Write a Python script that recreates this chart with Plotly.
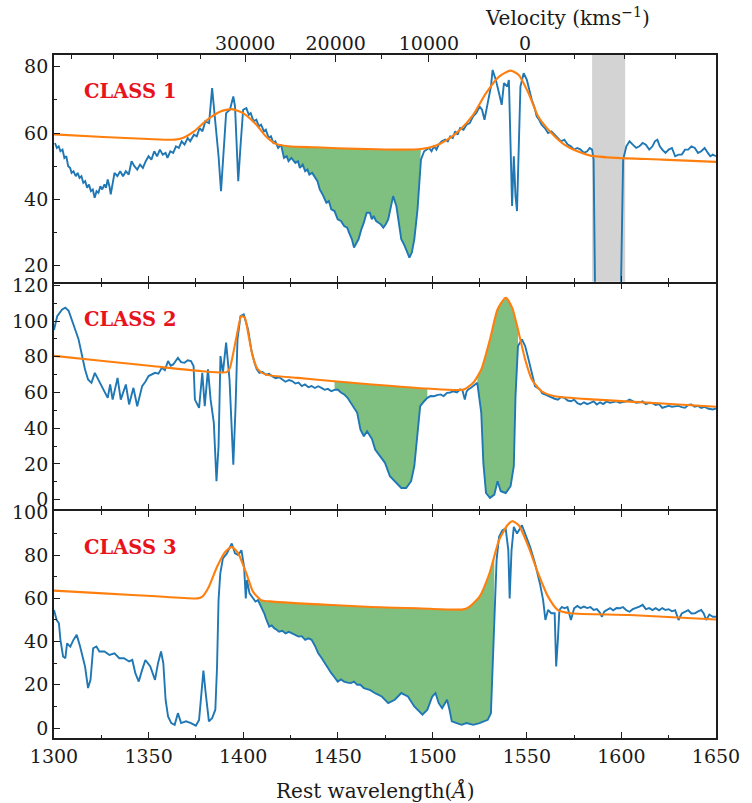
import numpy as np
import plotly.graph_objects as go

# ---------------- data ----------------
p1_wave = [1300.5,1301.5,1302.5,1303.4,1304.5,1305.5,1306.5,1307.5,1308.5,1309.3,1310.3,1311.5,1312.5,1313.5,1314.5,1315.5,1316.5,1317.5,1318.5,1319.5,
           1320.5,1321.5,1322.5,1323.5,1324.5,1325.5,1326.7,1327.5,1328.4,1329.3,1330.0,1331.0,1332.0,1333.5,1335.0,1336.5,1338.0,1339.5,1341.0,1342.5,
           1344.0,1345.5,1347.0,1348.5,1350.0,1351.5,1353.0,1354.5,1356.0,1357.5,1359.0,1360.0,1361.5,1363.0,1364.5,1366.0,1367.5,1369.0,1370.7,1372.0,
           1374.0,1375.5,1377.0,1378.5,1380.0,1382.0,1383.6,1385.0,1387.0,1388.3,1389.7,1391.0,1393.0,1394.8,1395.7,1396.6,1397.4,1398.6,1400.0,1401.7,
           1403.0,1404.0,1405.5,1407.0,1408.3,1409.5,1411.0,1412.0,1413.5,1414.7,1416.0,1417.0,1418.5,1420.0,1421.6,1423.0,1424.0,1425.5,1427.6,1429.0,
           1430.0,1431.5,1432.8,1434.0,1435.0,1436.5,1438.0,1439.3,1440.5,1442.0,1444.0,1445.3,1446.6,1448.3,1450.0,1451.7,1453.4,1455.0,1456.0,1457.5,
           1458.6,1460.0,1461.0,1462.5,1463.8,1465.3,1467.0,1468.0,1469.0,1470.3,1471.6,1472.8,1474.1,1475.4,1476.7,1478.0,1479.3,1481.0,1482.3,1483.6,
           1485.0,1486.2,1487.9,1489.2,1490.5,1492.2,1494.0,1495.7,1497.0,1498.3,1499.6,1500.9,1502.2,1503.4,1505.0,1506.9,1508.2,1509.5,1510.8,1512.1,
           1513.4,1514.7,1516.5,1518.1,1519.8,1521.6,1523.2,1525.0,1526.3,1527.6,1529.3,1531.0,1531.9,1533.6,1535.3,1536.7,1537.9,1539.7,1540.5,1541.4,
           1542.2,1543.1,1544.0,1544.8,1545.7,1546.6,1548.3,1550.0,1551.3,1552.6,1553.9,1555.2,1556.5,1557.8,1559.5,1561.2,1563.0,1564.7,1566.4,1568.1,
           1569.8,1571.6,1573.3,1575.0,1576.7,1578.4,1580.2,1581.9,1583.2,1584.5,1585.3,1586.2,1599.5,1600.9,1602.6,1604.3,1606.0,1607.8,1609.5,1611.2,
           1612.9,1614.7,1616.4,1617.7,1619.0,1620.3,1621.6,1623.3,1625.0,1626.7,1628.4,1630.2,1631.9,1633.6,1635.3,1637.0,1638.8,1640.5,1642.2,1644.0,
           1645.7,1647.0,1648.3,1650.0]
p1_flux = [57.0,55.5,56.0,54.5,55.0,52.5,53.0,50.0,49.5,48.0,48.5,47.0,48.0,46.5,47.0,45.0,45.5,43.5,44.5,42.5,
           43.0,40.5,42.5,42.0,44.0,43.0,44.5,43.5,46.0,44.0,41.5,45.0,48.0,47.0,48.5,47.0,48.5,47.5,51.5,50.0,
           49.0,50.5,49.5,51.5,53.0,52.0,54.5,53.0,55.0,53.5,54.0,52.5,54.5,54.0,56.0,55.5,57.5,56.5,58.5,57.5,
           59.5,59.0,61.5,60.5,63.5,63.0,73.5,65.0,53.0,42.5,55.0,66.0,67.0,71.0,68.0,55.0,45.5,56.0,67.0,67.5,
           65.5,66.0,63.5,64.0,62.0,62.5,60.5,61.0,58.5,59.0,57.0,57.5,55.5,56.5,52.5,53.0,51.5,52.5,51.0,51.5,
           49.5,50.5,48.5,49.0,47.5,48.0,46.5,45.5,43.0,41.5,39.0,39.5,37.0,36.5,34.0,33.5,32.0,31.5,30.0,28.0,
           25.5,27.0,28.0,31.0,33.0,36.0,36.0,34.0,35.0,33.5,33.0,32.5,31.5,32.5,34.0,38.0,41.0,38.0,33.0,28.0,
           26.5,25.0,22.5,24.0,28.0,37.0,52.0,54.5,55.0,55.5,54.5,56.0,55.0,56.5,57.5,58.0,57.5,59.0,58.5,60.5,
           59.5,61.5,61.0,62.5,63.0,65.0,66.0,68.0,67.0,64.0,69.0,74.0,79.0,76.0,72.0,68.5,75.0,74.0,76.0,55.0,
           38.0,53.0,41.0,36.5,55.0,74.0,78.0,76.0,73.0,70.0,68.0,65.0,64.0,62.5,61.5,60.0,60.5,59.5,58.5,57.5,
           58.0,56.5,56.0,55.0,55.5,55.0,54.0,54.5,55.5,55.0,52.0,5.0,5.0,52.0,56.0,57.5,56.5,55.5,56.0,57.0,
           56.5,55.0,56.0,57.5,58.0,56.0,55.0,54.0,55.0,55.5,53.0,53.5,53.5,55.0,55.0,56.0,55.5,54.0,54.5,55.5,
           54.0,53.0,53.5,53.0]
p1_cont_wave = [1300,1326,1350,1364,1368,1374,1381,1388,1394,1400,1407,1412,1417,1424,1438,1450,1470.7,1483.6,1494,1501,
                1508,1514.7,1521.6,1528.4,1535.3,1541.4,1545.7,1550.9,1556,1563,1569.8,1576.7,1583.6,1597.4,1621.6,1650]
p1_cont_flux = [59.6,58.8,58.2,58.0,58.5,60.5,64.0,66.5,67.2,66.0,62.5,59.0,56.8,56.0,55.7,55.4,55.1,55.0,55.2,56.0,
                58.0,61.0,65.5,72.0,77.0,78.8,77.5,72.0,65.0,60.0,56.5,54.5,53.2,52.5,52.0,51.3]

p2_wave = [1300.0,1301.7,1304.3,1306.0,1307.8,1309.5,1311.2,1313.0,1314.7,1316.4,1318.0,1319.8,1321.6,1323.3,1325.9,1328.4,1329.7,1331.0,1333.6,1335.3,
           1338.0,1339.7,1342.0,1344.0,1346.6,1348.3,1350.0,1351.7,1353.4,1355.2,1357.0,1358.6,1360.3,1361.7,1363.0,1365.5,1367.2,1369.0,1370.7,1372.4,
           1373.8,1374.5,1376.7,1378.4,1379.7,1381.4,1382.8,1384.5,1385.9,1387.0,1388.0,1389.3,1391.0,1392.8,1394.0,1394.8,1396.0,1397.0,1398.6,1400.3,
           1402.6,1404.3,1406.0,1407.2,1408.6,1410.3,1412.0,1413.7,1415.5,1417.2,1419.0,1420.7,1422.4,1424.2,1425.9,1427.6,1429.3,1431.0,1432.7,1434.5,
           1436.2,1437.9,1439.7,1441.4,1443.1,1444.8,1446.6,1448.3,1450.0,1451.7,1453.4,1455.2,1457.0,1460.3,1462.0,1463.8,1465.5,1468.1,1469.8,1472.4,
           1475.0,1477.6,1480.2,1483.6,1486.2,1488.8,1490.5,1492.2,1493.6,1495.7,1497.4,1499.1,1500.9,1502.6,1504.3,1506.0,1507.8,1509.5,1511.2,1513.0,
           1514.7,1516.0,1517.2,1518.1,1519.0,1520.3,1521.6,1523.8,1525.9,1527.0,1528.4,1530.5,1532.8,1534.5,1536.2,1538.8,1541.4,1543.1,1544.0,1545.3,
           1547.4,1549.1,1550.9,1552.6,1554.3,1556.9,1558.2,1559.5,1561.2,1563.0,1564.7,1566.4,1568.1,1569.8,1571.6,1573.3,1575.0,1576.7,1578.4,1580.2,
           1581.9,1583.6,1585.3,1587.0,1588.7,1590.4,1592.2,1593.9,1595.6,1597.4,1599.1,1600.8,1602.6,1604.3,1606.0,1607.8,1609.5,1611.2,1612.9,1614.7,
           1616.4,1618.1,1619.9,1621.6,1623.3,1625.0,1626.7,1628.4,1630.2,1631.9,1633.6,1635.3,1637.0,1638.7,1640.5,1642.2,1643.9,1645.7,1648.3,1650.0]
p2_flux = [95.0,102.8,106.5,107.5,105.6,101.0,95.3,89.7,81.3,72.9,67.3,65.4,71.0,67.3,61.7,57.0,64.5,56.0,68.2,56.0,
           64.5,53.3,62.6,52.3,63.6,66.0,69.2,70.0,71.0,70.5,73.8,72.5,77.6,75.0,75.7,79.4,77.0,76.6,78.0,77.6,
           74.8,56.0,51.4,71.0,52.3,72.9,56.0,43.0,10.3,30.0,80.4,71.0,87.9,67.3,39.3,19.6,52.3,89.7,102.8,103.7,
           95.3,84.0,76.6,73.0,71.0,71.5,70.0,70.5,69.0,68.0,68.5,67.3,66.0,67.0,66.4,65.0,65.5,63.6,64.5,63.0,
           63.6,62.5,63.5,62.6,61.5,62.0,60.7,61.5,61.7,60.0,58.9,57.0,54.2,48.6,39.3,35.5,38.3,34.0,28.0,24.3,
           20.6,13.1,10.3,6.5,6.5,10.3,18.7,39.3,52.3,55.1,57.0,58.0,57.9,58.5,58.9,58.0,59.8,60.0,60.7,60.0,
           61.7,61.0,56.0,60.5,61.7,62.5,63.6,65.4,48.6,20.6,3.7,0.9,2.8,10.3,4.7,3.7,7.5,18.7,57.9,86.0,
           89.7,86.0,78.5,71.0,63.6,61.7,59.5,58.9,58.0,57.0,56.5,56.0,57.5,57.0,55.5,55.1,56.0,54.0,53.3,54.5,
           53.5,54.2,55.0,53.3,54.5,53.5,55.0,54.2,54.5,55.0,54.2,54.5,55.0,56.0,55.0,54.2,54.5,55.0,53.5,54.2,
           54.0,53.0,53.5,51.4,52.0,52.5,52.0,52.3,52.5,51.8,51.4,53.0,53.3,52.0,52.5,51.4,52.0,51.0,50.5,51.0]
p2_cont_wave = [1300,1326,1351.7,1377.6,1391.4,1393,1394.8,1396.9,1399,1400.9,1402.6,1405,1407.8,1412,1429,1446.6,1468,1497.4,1516.4,1521.6,
                1525.9,1530.5,1534.5,1538.8,1542.2,1545.7,1549.1,1552.6,1557.8,1564.7,1587,1621.6,1650]
p2_cont_flux = [80.5,77.6,74.8,72.0,71.4,73.8,82.2,93.5,102.8,101.9,93.5,80.4,72.9,70.0,68.2,66.4,64.5,62.2,61.6,65.4,
                72.9,89.7,106.5,113.1,107.5,93.5,78.5,67.3,60.7,57.9,56.0,53.8,52.0]

p3_wave = [1300.0,1301.4,1302.6,1303.4,1304.8,1306.0,1306.9,1308.6,1310.3,1312.0,1313.8,1316.4,1318.0,1319.3,1320.7,1322.4,1324.0,1326.7,1329.3,1332.0,
           1334.5,1337.0,1339.7,1341.4,1343.0,1344.8,1346.6,1348.3,1350.9,1353.4,1355.0,1356.6,1357.8,1359.0,1360.3,1362.0,1363.8,1365.5,1367.2,1369.8,
           1372.4,1375.0,1376.7,1378.0,1379.0,1380.2,1381.9,1383.6,1385.3,1386.2,1387.0,1387.9,1389.3,1391.4,1394.0,1395.7,1397.4,1399.1,1400.5,1401.4,
           1402.0,1403.4,1405.2,1406.5,1407.8,1409.0,1410.3,1411.2,1412.0,1413.0,1413.8,1415.1,1416.4,1417.7,1419.0,1420.7,1422.4,1424.2,1425.9,1427.6,
           1429.3,1431.0,1432.8,1434.5,1436.2,1438.0,1439.7,1441.4,1443.1,1444.8,1446.6,1448.3,1450.0,1451.7,1453.4,1455.2,1457.0,1458.6,1460.3,1462.0,
           1463.8,1465.5,1467.2,1470.0,1473.3,1476.7,1480.2,1483.6,1487.1,1490.5,1494.8,1497.4,1500.0,1501.7,1503.4,1505.2,1507.8,1509.1,1510.3,1512.9,
           1515.5,1518.1,1521.6,1525.0,1529.3,1531.0,1531.9,1532.8,1534.0,1535.3,1537.1,1538.8,1540.2,1540.9,1541.9,1543.1,1544.8,1547.4,1549.1,1551.7,
           1554.3,1556.9,1558.6,1559.8,1561.2,1562.9,1564.7,1565.5,1566.4,1567.2,1568.5,1569.8,1571.5,1573.3,1575.0,1576.7,1578.4,1580.2,1581.9,1583.6,
           1585.3,1587.0,1588.5,1589.7,1591.0,1592.2,1594.0,1595.6,1597.4,1599.1,1600.8,1602.6,1604.3,1606.0,1607.8,1609.5,1611.2,1612.9,1614.7,1616.4,
           1618.1,1619.9,1621.6,1623.3,1625.0,1626.7,1628.4,1630.2,1631.9,1633.6,1635.3,1637.0,1638.8,1640.5,1642.2,1643.5,1644.8,1646.5,1648.3,1650.0]
p3_flux = [54.6,50.0,48.5,40.8,33.1,32.3,39.2,37.7,40.8,43.1,37.7,28.5,18.5,22.3,36.9,37.7,35.4,35.4,33.8,34.6,
           32.3,32.3,30.8,31.5,25.4,21.5,26.9,31.5,28.5,22.3,30.0,35.4,30.0,13.1,5.4,2.3,1.5,6.9,2.3,3.1,
           2.3,1.1,3.8,17.7,26.6,16.2,3.1,4.6,8.5,28.5,59.2,71.5,78.5,80.8,85.4,80.8,80.0,82.3,74.6,60.0,
           68.5,62.3,60.0,58.5,59.2,57.0,55.4,53.0,50.8,48.0,46.9,47.5,46.2,45.5,44.6,45.0,43.8,44.5,43.8,43.0,
           42.3,42.5,40.8,41.5,40.8,38.0,34.6,32.5,30.0,28.0,25.4,23.5,21.5,22.5,21.5,21.0,20.8,21.5,20.0,20.0,
           18.5,18.0,17.5,16.0,14.6,11.5,13.1,16.2,14.6,10.0,6.2,8.5,14.6,16.2,11.5,9.2,13.1,8.5,3.1,2.3,
           1.5,2.3,1.5,2.3,3.8,6.9,28.5,56.2,77.7,88.5,91.5,92.3,82.3,60.0,82.3,93.1,90.0,93.8,90.0,83.8,
           76.2,66.9,59.2,50.0,54.6,53.1,53.1,28.5,40.8,54.6,56.0,55.4,56.0,50.0,55.4,56.5,55.5,56.2,55.5,56.0,
           54.6,55.0,53.5,51.5,54.0,54.6,55.5,54.5,55.5,55.4,56.0,54.5,53.8,55.0,55.5,56.2,57.0,55.0,55.5,54.6,
           55.5,54.5,55.5,54.6,55.0,54.0,54.5,50.0,53.0,53.8,54.5,53.0,53.1,54.0,54.6,53.0,50.0,52.5,51.5,51.5]
p3_cont_wave = [1300,1326,1351.7,1375.9,1378.4,1381.9,1386.2,1390.5,1394,1397.4,1401.7,1405.2,1409.5,1415.5,1446.6,1468,1492.2,1516.4,1519.8,1525,
                1530.2,1535.3,1539.7,1542.2,1545.7,1550.9,1556,1561.2,1566.4,1573.3,1604.3,1650]
p3_cont_flux = [63.6,62.3,61.1,60.0,60.8,65.4,74.6,81.5,83.8,80.8,71.5,63.1,59.2,58.5,56.9,56.0,55.4,54.9,56.2,60.8,
                71.5,86.9,93.8,95.7,93.8,83.8,71.5,60.8,54.6,53.1,52.3,50.2]

# absorption-trough fill intervals (Angstrom)
p1_troughs = [(1420.0, 1494.0)]
p2_troughs = [(1447.5, 1497.4), (1523.8, 1545.5)]
p3_troughs = [(1407.8, 1532.8)]

# masked region in class 1
mask_band = (1584.5, 1602.0)

class_labels = ["CLASS 1", "CLASS 2", "CLASS 3"]
x_ticks = [1300, 1350, 1400, 1450, 1500, 1550, 1600, 1650]
vel_labels = [30000, 20000, 10000, 0]
vel_minor = [50000, 45000, 40000, 35000, 25000, 15000, 5000, -5000, -10000, -15000]
civ_rest = 1549.06
c_kms = 299792.458

# ---------------- figure ----------------
BLUE = "#1f77b4"
ORANGE = "#ff7f0e"
FILL = "rgba(0,128,0,0.5)"
AX = "#1e1e1e"
FONT = "DejaVu Serif"
LW = 1.8


def vel_to_wave(v):
    b = v / c_kms
    return civ_rest * np.sqrt((1 - b) / (1 + b))


fig = go.Figure()

panels = [
    (p1_wave, p1_flux, p1_cont_wave, p1_cont_flux, p1_troughs, "x", "y"),
    (p2_wave, p2_flux, p2_cont_wave, p2_cont_flux, p2_troughs, "x2", "y2"),
    (p3_wave, p3_flux, p3_cont_wave, p3_cont_flux, p3_troughs, "x3", "y3"),
]

for w, f, cw, cf, troughs, xa, ya in panels:
    w = np.asarray(w, float)
    f = np.asarray(f, float)
    for a, b in troughs:
        sel = (w >= a) & (w <= b)
        xs = w[sel]
        lo = f[sel]
        hi = np.interp(xs, cw, cf)
        fig.add_trace(go.Scatter(
            x=np.concatenate([xs, xs[::-1]]),
            y=np.concatenate([lo, hi[::-1]]),
            fill="toself", fillcolor=FILL, line=dict(width=0),
            mode="lines", hoverinfo="skip", showlegend=False,
            xaxis=xa, yaxis=ya))
    fig.add_trace(go.Scatter(x=w, y=f, mode="lines",
                             line=dict(color=BLUE, width=1.9),
                             showlegend=False, xaxis=xa, yaxis=ya))
    fig.add_trace(go.Scatter(x=cw, y=cf, mode="lines",
                             line=dict(color=ORANGE, width=2.1, shape="spline", smoothing=0.6),
                             showlegend=False, xaxis=xa, yaxis=ya))

# invisible trace that carries the velocity axis
fig.add_trace(go.Scatter(x=[1300, 1650], y=[50, 50], xaxis="x4", yaxis="y",
                         mode="lines", line=dict(width=0), opacity=0,
                         showlegend=False, hoverinfo="skip"))

common_x = dict(range=[1300, 1650], showline=True, linecolor=AX, linewidth=LW,
                ticks="inside", ticklen=6, tickwidth=1.2, tickcolor=AX,
                tickvals=x_ticks, showgrid=False, zeroline=False,
                minor=dict(dtick=25, tick0=1300, ticks="inside", ticklen=3.5, tickcolor=AX, tickwidth=1),
                tickfont=dict(family=FONT, size=19, color="#1a1a1a"))
common_y = dict(showline=True, linecolor=AX, linewidth=LW, mirror=True,
                ticks="inside", ticklen=6, tickwidth=1.2, tickcolor=AX,
                showgrid=False, zeroline=False, dtick=20, tick0=0,
                minor=dict(dtick=10, tick0=0, ticks="inside", ticklen=3.5, tickcolor=AX, tickwidth=1),
                tickfont=dict(family=FONT, size=19, color="#1a1a1a"))

# panel heights in plot fraction, with a gap equal to one line width so the
# outward-drawn axis lines of neighbouring panels coincide
H = 803 - 55 - 65
g = LW / H
d3 = [0.0, 1/3 - g/2]
d2 = [1/3 + g/2, 2/3 - g/2]
d1 = [2/3 + g/2, 1.0]

fig.update_layout(
    width=752, height=803,
    margin=dict(l=50, r=29, t=55, b=65),
    plot_bgcolor="white", paper_bgcolor="white",
    font=dict(family=FONT, size=19, color="#1a1a1a"),
    xaxis=dict(common_x, anchor="y", mirror=True, showticklabels=False),
    xaxis2=dict(common_x, anchor="y2", mirror="ticks", showticklabels=False),
    xaxis3=dict(common_x, anchor="y3", mirror="ticks", showticklabels=True),
    xaxis4=dict(range=[1300, 1650], overlaying="x", side="top", anchor="y",
                showline=False, showgrid=False, zeroline=False,
                tickmode="array", tickvals=[vel_to_wave(v) for v in vel_labels],
                ticktext=[str(v) for v in vel_labels],
                ticks="inside", ticklen=7, tickwidth=1.2, tickcolor=AX,
                minor=dict(tickmode="array", tickvals=[vel_to_wave(v) for v in vel_minor],
                           ticks="inside", ticklen=4, tickcolor=AX, tickwidth=1),
                tickfont=dict(family=FONT, size=19, color="#1a1a1a")),
    yaxis=dict(common_y, domain=d1, range=[15.2, 83.5], anchor="x"),
    yaxis2=dict(common_y, domain=d2, range=[-5.5, 121], anchor="x2"),
    yaxis3=dict(common_y, domain=d3, range=[-4.6, 100.3], anchor="x3"),
)

# masked band (class 1)
fig.add_shape(type="rect", xref="x", yref="y domain", x0=mask_band[0], x1=mask_band[1],
              y0=0, y1=1, fillcolor="#d3d3d3", line=dict(width=0), layer="below")

# class labels
for lab, xr, yr in zip(class_labels, ["x domain", "x2 domain", "x3 domain"],
                       ["y domain", "y2 domain", "y3 domain"]):
    fig.add_annotation(text="<b>" + lab + "</b>", xref=xr, yref=yr, x=0.042, y=0.84,
                       xanchor="left", yanchor="middle", showarrow=False,
                       font=dict(family="DejaVu Serif", size=19.5, color="#e8141c"))

fig.add_annotation(text="Velocity (kms<sup>\u22121</sup>)", xref="paper", yref="paper",
                   x=0.775, y=1.0, yshift=38, xanchor="center", yanchor="middle",
                   showarrow=False, font=dict(family=FONT, size=20, color="#1a1a1a"))
fig.add_annotation(text="Rest wavelength(<i>\u00c5</i>)", xref="paper", yref="paper",
                   x=0.485, y=0, yshift=-52, xanchor="center", yanchor="middle",
                   showarrow=False, font=dict(family=FONT, size=20, color="#1a1a1a"))

fig.write_html("out.html")
